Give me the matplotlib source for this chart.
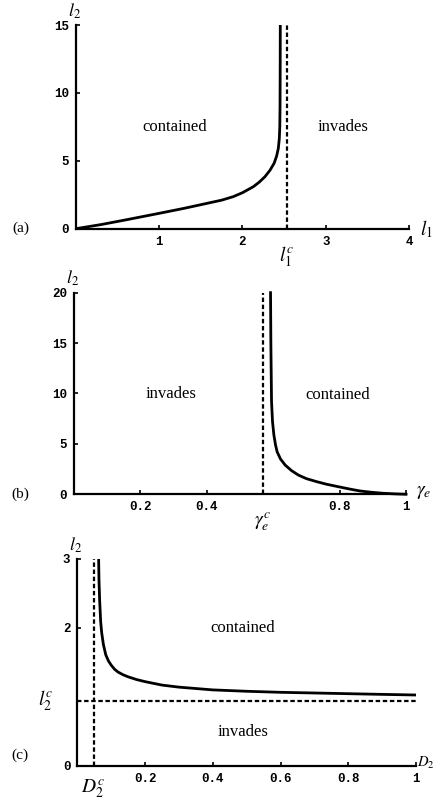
#! /usr/bin/env python3
# three stacked phase diagrams: contained / invades regions
import matplotlib
matplotlib.use("Agg")
import matplotlib.pyplot as plt

plt.rcParams['mathtext.fontset'] = 'stix'

# panel (a): l2 against l1
a_l1 = [0, 0.3, 0.6, 1.0, 1.3, 1.6, 1.75, 1.89, 2.0, 2.13, 2.2, 2.27, 2.33, 2.38,
        2.41, 2.43, 2.442, 2.448, 2.451, 2.453, 2.454]
a_l2 = [0, 0.3, 0.65, 1.13, 1.5, 1.9, 2.1, 2.36, 2.65, 3.09, 3.42, 3.83, 4.3, 4.82,
        5.35, 5.9, 6.6, 7.5, 9.0, 12.0, 15.0]
a_l1c = 2.537

# panel (b): l2 against gamma_e
b_gam = [0.592, 0.593, 0.595, 0.598, 0.602, 0.607, 0.612, 0.622, 0.636, 0.655, 0.676,
         0.70, 0.731, 0.76, 0.796, 0.83, 0.861, 0.895, 0.93, 0.965, 1.0]
b_l2 = [20.0, 15.0, 9.2, 7.2, 5.9, 4.9, 4.2, 3.5, 2.9, 2.35, 1.9,
        1.55, 1.25, 1.0, 0.75, 0.52, 0.33, 0.2, 0.1, 0.04, 0.0]
b_gamc = 0.568

# panel (c): l2 against D2
c_D = [0.063, 0.064, 0.066, 0.069, 0.072, 0.077, 0.084, 0.092, 0.1, 0.11, 0.12, 0.135,
       0.15, 0.175, 0.2, 0.25, 0.3, 0.35, 0.4, 0.5, 0.6, 0.7, 0.8, 0.9, 1.0]
c_l2 = [3.0, 2.7, 2.4, 2.09, 1.93, 1.76, 1.61, 1.52, 1.46, 1.40, 1.36, 1.32,
        1.29, 1.25, 1.22, 1.17, 1.14, 1.12, 1.10, 1.08, 1.065, 1.055, 1.045, 1.035, 1.026]
c_Dc = 0.048
c_l2c = 0.944

tickfont = dict(family='Liberation Mono', weight='bold', size=9)
serif = 'Liberation Serif'
dash = (0, (2, 1.2))


def style_axes(ax):
    ax.spines['top'].set_visible(False)
    ax.spines['right'].set_visible(False)
    ax.spines['left'].set_linewidth(1.6)
    ax.spines['bottom'].set_linewidth(1.6)
    ax.tick_params(direction='in', length=3, width=1.2, pad=5)
    for lab in ax.get_xticklabels() + ax.get_yticklabels():
        lab.set_fontfamily(tickfont['family'])
        lab.set_fontweight(tickfont['weight'])
        lab.set_fontsize(tickfont['size'])


def axis_name(ax, s, xy, dx, dy, ha='center', va='center', size=14):
    # label placed at an offset (in points) from an axes-fraction anchor
    ax.annotate(s, xy=xy, xycoords='axes fraction', xytext=(dx, dy),
                textcoords='offset points', fontsize=size, ha=ha, va=va,
                annotation_clip=False)


fig = plt.figure(figsize=(4.35, 8.10), dpi=100)

# (a)
ax = fig.add_axes([0.1747, 0.7177, 0.7655, 0.2514])
ax.plot(a_l1, a_l2, color='black', lw=2)
ax.axvline(a_l1c, color='black', lw=1.6, ls=dash)
ax.set_xlim(0, 4)
ax.set_ylim(0, 15)
ax.set_xticks([1, 2, 3, 4])
ax.set_yticks([0, 5, 10, 15])
style_axes(ax)
ax.text(1.19, 7.5, 'contained', fontsize=12, family=serif, ha='center', va='center')
ax.text(3.21, 7.5, 'invades', fontsize=12, family=serif, ha='center', va='center')
ax.text(a_l1c, -1.2, r'$l_1^c$', fontsize=14, ha='center', va='top')
axis_name(ax, r'$l_1$', (1, 0), 8, 0, ha='left')
axis_name(ax, r'$l_2$', (0, 1), -1, 3, va='bottom', size=13)
ax.text(-0.77, 0, '(a)', fontsize=11, family=serif, ha='left', va='center')

# (b)
ax = fig.add_axes([0.1701, 0.3898, 0.7632, 0.2489])
ax.plot(b_gam, b_l2, color='black', lw=2, clip_on=False)
ax.axvline(b_gamc, color='black', lw=1.6, ls=dash)
ax.set_xlim(0, 1)
ax.set_ylim(0, 20)
ax.set_xticks([0.2, 0.4, 0.8, 1])
ax.set_xticklabels(['0.2', '0.4', '0.8', '1'])
ax.set_yticks([0, 5, 10, 15, 20])
style_axes(ax)
ax.text(0.291, 9.9, 'invades', fontsize=12, family=serif, ha='center', va='center')
ax.text(0.793, 9.8, 'contained', fontsize=12, family=serif, ha='center', va='center')
ax.text(b_gamc, -1.6, r'$\gamma_e^c$', fontsize=14, ha='center', va='top')
axis_name(ax, r'$\gamma_e$', (1, 0), 7, 2, ha='left')
axis_name(ax, r'$l_2$', (0, 1), -1, 3, va='bottom', size=13)
ax.text(-0.188, 0, '(b)', fontsize=11, family=serif, ha='left', va='center')

# (c)
ax = fig.add_axes([0.1777, 0.0547, 0.7786, 0.2552])
ax.plot(c_D, c_l2, color='black', lw=2)
ax.axvline(c_Dc, color='black', lw=1.6, ls=dash)
ax.axhline(c_l2c, color='black', lw=1.6, ls=dash)
ax.set_xlim(0, 1)
ax.set_ylim(0, 3)
ax.set_xticks([0.2, 0.4, 0.6, 0.8, 1])
ax.set_xticklabels(['0.2', '0.4', '0.6', '0.8', '1'])
ax.set_yticks([0, 2, 3])
style_axes(ax)
ax.text(0.488, 2.0, 'contained', fontsize=12, family=serif, ha='center', va='center')
ax.text(0.488, 0.49, 'invades', fontsize=12, family=serif, ha='center', va='center')
ax.text(c_Dc, -0.17, r'$D_2^c$', fontsize=14, ha='center', va='top')
ax.text(-0.07, c_l2c, r'$l_2^c$', fontsize=14, ha='right', va='center')
axis_name(ax, r'$D_2$', (1, 0), 1, 2, ha='left', size=10.5)
axis_name(ax, r'$l_2$', (0, 1), -1, 3, va='bottom', size=13)
ax.text(-0.195, 0.15, '(c)', fontsize=11, family=serif, ha='left', va='center')

fig.savefig('out.png', dpi=100)
plt.close('all')
